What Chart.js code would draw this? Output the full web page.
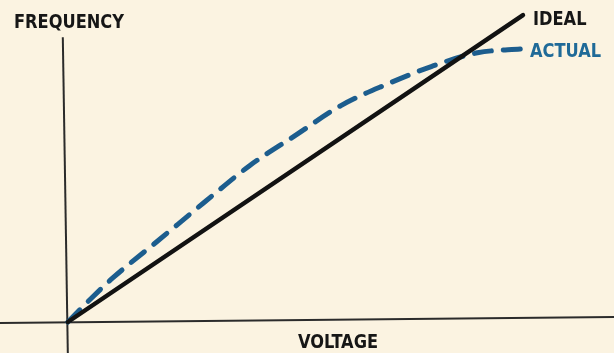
<!DOCTYPE html>
<html>
<head>
<meta charset="utf-8">
<script src="https://cdn.jsdelivr.net/npm/chart.js@4.4.1/dist/chart.umd.min.js"></script>
<style>
  html, body { margin: 0; padding: 0; background: #fbf3e1; }
  #wrap { width: 614px; height: 353px; }
</style>
</head>
<body>
<div id="wrap"><canvas id="myChart" width="614" height="353"></canvas></div>
<script>
// ideal: straight line, voltage vs frequency (arbitrary units 0..100)
const idealVoltage = [0, 100];
const idealFrequency = [0, 100];

// actual: curve above the ideal, crossing it near the top
const actualVoltage = [0, 5, 10, 20, 30, 40, 50, 60, 70, 80, 90, 100];
const actualFrequency = [0, 7.5, 14.5, 26.7, 39, 51, 60.8, 70.5, 77.4, 83.3, 87.7, 89];

const labels = ['FREQUENCY', 'VOLTAGE', 'IDEAL', 'ACTUAL'];

function toPoints(xs, ys) {
    return xs.map((x, i) => ({ x: x, y: ys[i] }));
}

// narrow lettering like the hand drawn labels
function letter(ctx, text, x, y) {
    ctx.save();
    ctx.translate(x, y);
    ctx.scale(0.95, 1.05);
    ctx.fillText(text, 0, 0);
    ctx.restore();
}

// axis lines and labels
const drawing = {
    id: 'drawing',
    beforeDatasetsDraw(chart) {
        const ctx = chart.ctx;
        const xs = chart.scales.x;
        const ys = chart.scales.y;
        ctx.save();
        ctx.strokeStyle = '#2b2b2b';
        ctx.lineWidth = 2;
        ctx.beginPath();
        ctx.moveTo(xs.getPixelForValue(xs.min), ys.getPixelForValue(-0.3));
        ctx.lineTo(xs.getPixelForValue(xs.max), ys.getPixelForValue(1.6));
        ctx.stroke();
        ctx.beginPath();
        ctx.moveTo(xs.getPixelForValue(0), ys.getPixelForValue(ys.min));
        ctx.lineTo(xs.getPixelForValue(-1.1), ys.getPixelForValue(92.8));
        ctx.stroke();
        ctx.restore();
    },
    afterDatasetsDraw(chart) {
        const ctx = chart.ctx;
        ctx.save();
        ctx.font = 'bold 19px "DejaVu Sans Condensed", "Liberation Sans Narrow", sans-serif';
        ctx.textBaseline = 'alphabetic';
        ctx.textAlign = 'left';
        ctx.fillStyle = '#161616';
        letter(ctx, labels[0], 14, 28);
        letter(ctx, labels[1], 298, 348);
        letter(ctx, labels[2], 533, 25);
        ctx.fillStyle = '#1f6a98';
        letter(ctx, labels[3], 530, 57);
        ctx.restore();
    }
};

const ctx = document.getElementById('myChart').getContext('2d');
const chart = new Chart(ctx, {
    type: 'line',
    data: {
        datasets: [
            {
                label: 'IDEAL',
                data: toPoints(idealVoltage, idealFrequency),
                borderColor: '#121212',
                borderWidth: 4.5,
                pointRadius: 0,
                borderCapStyle: 'round'
            },
            {
                label: 'ACTUAL',
                data: toPoints(actualVoltage, actualFrequency),
                borderColor: '#1c5d8e',
                borderWidth: 5,
                borderDash: [17, 12],
                borderCapStyle: 'round',
                pointRadius: 0,
                cubicInterpolationMode: 'monotone'
            }
        ]
    },
    options: {
        responsive: false,
        animation: false,
        layout: { padding: 0 },
        plugins: {
            legend: { display: false },
            tooltip: { enabled: false }
        },
        scales: {
            x: { type: 'linear', min: -14.9, max: 120, display: false },
            y: { type: 'linear', min: -10.1, max: 104.9, display: false }
        }
    },
    plugins: [drawing]
});
</script>
</body>
</html>
